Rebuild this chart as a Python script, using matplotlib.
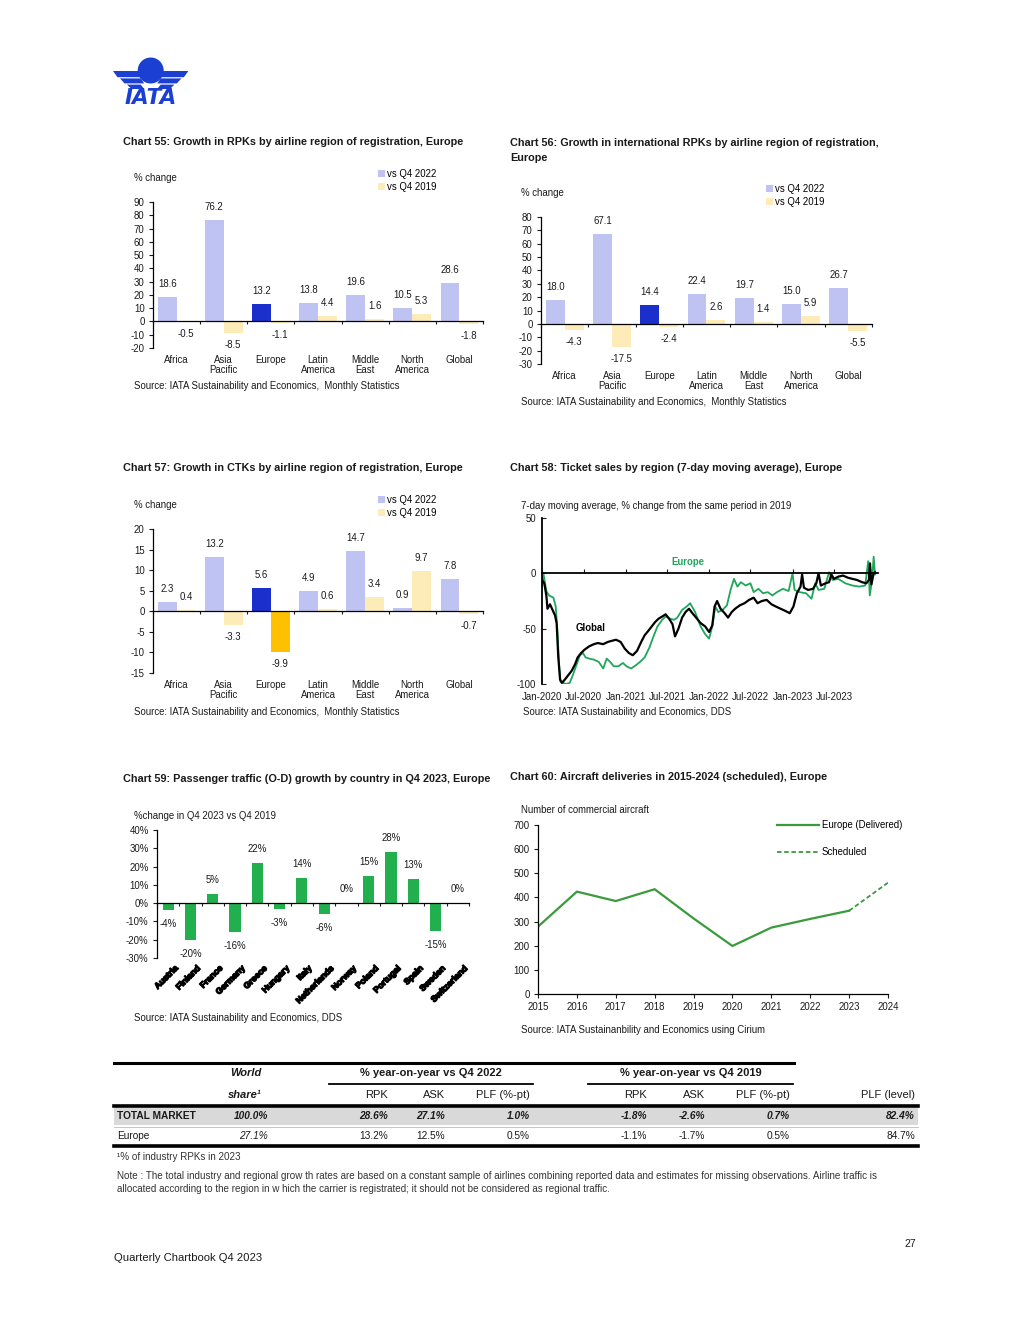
import matplotlib

matplotlib.use("Agg")
import matplotlib.dates as mdates
import matplotlib.patheffects as pe
import matplotlib.pyplot as plt
import numpy as np
from matplotlib.patches import Circle, Polygon, Rectangle

W, H = 1020, 1320
plt.rcParams["font.family"] = ["Liberation Sans", "DejaVu Sans"]
plt.rcParams["axes.unicode_minus"] = False
FS = 6.9

# ---- chart 55-57: growth by airline region of registration ----
REGIONS = ["Africa", "Asia\nPacific", "Europe", "Latin\nAmerica", "Middle\nEast", "North\nAmerica", "Global"]
RPK_VS_2022 = [18.6, 76.2, 13.2, 13.8, 19.6, 10.5, 28.6]
RPK_VS_2019 = [-0.5, -8.5, -1.1, 4.4, 1.6, 5.3, -1.8]
INTL_VS_2022 = [18.0, 67.1, 14.4, 22.4, 19.7, 15.0, 26.7]
INTL_VS_2019 = [-4.3, -17.5, -2.4, 2.6, 1.4, 5.9, -5.5]
CTK_VS_2022 = [2.3, 13.2, 5.6, 4.9, 14.7, 0.9, 7.8]
CTK_VS_2019 = [0.4, -3.3, -9.9, 0.6, 3.4, 9.7, -0.7]

# ---- chart 58: ticket sales, 7-day moving average, % vs 2019 ----
GLOBAL_DATES = [
    "2020-01-01", "2020-01-11", "2020-01-20", "2020-01-25", "2020-02-05", "2020-02-16", "2020-02-27",
    "2020-03-05", "2020-03-12", "2020-03-20", "2020-03-28", "2020-04-10", "2020-04-25", "2020-05-10",
    "2020-05-25", "2020-06-05", "2020-06-20", "2020-07-05", "2020-07-25", "2020-08-15", "2020-09-01",
    "2020-09-25", "2020-10-15", "2020-11-01", "2020-11-20", "2020-12-10", "2020-12-28", "2021-01-15",
    "2021-02-01", "2021-02-20", "2021-03-10", "2021-03-25", "2021-04-10", "2021-04-25", "2021-05-10",
    "2021-05-25", "2021-06-10", "2021-06-25", "2021-07-10", "2021-07-25", "2021-08-05", "2021-08-20",
    "2021-09-05", "2021-09-20", "2021-10-05", "2021-10-20", "2021-11-05", "2021-11-25", "2021-12-15",
    "2022-01-01", "2022-01-15", "2022-01-25", "2022-02-05", "2022-02-20", "2022-03-10", "2022-03-25",
    "2022-04-10", "2022-04-25", "2022-05-15", "2022-06-05", "2022-06-25", "2022-07-15", "2022-08-01",
    "2022-08-20", "2022-09-10", "2022-10-01", "2022-10-20", "2022-11-10", "2022-12-01", "2022-12-20",
    "2023-01-05", "2023-01-20", "2023-02-05", "2023-02-12", "2023-02-20", "2023-03-10", "2023-04-01",
    "2023-04-15", "2023-04-25", "2023-05-05", "2023-05-25", "2023-06-10", "2023-06-20", "2023-07-01",
    "2023-07-20", "2023-08-10", "2023-09-01", "2023-09-20", "2023-10-10", "2023-11-01", "2023-11-20",
    "2023-12-01", "2023-12-06", "2023-12-12", "2023-12-22", "2023-12-28",
]
GLOBAL_VALS = [
    -6, -9, -20, -32, -28, -33, -38,
    -45, -75, -96, -99, -96, -92, -88,
    -82, -76, -72, -69, -66, -64, -63,
    -64, -62, -61, -60, -62, -68, -72,
    -74, -70, -62, -56, -52, -48, -44,
    -41, -39, -37, -41, -46, -57, -50,
    -40, -35, -32, -36, -40, -45, -48,
    -53, -47, -30, -25, -32, -36, -40,
    -35, -32, -29, -27, -24, -22, -27,
    -25, -24, -28, -30, -32, -34, -36,
    -30, -18, -12, -1, -13, -15, -14,
    -9, 0, -11, -9, -8, -1, -5,
    -3, -2, -4, -5, -6, -8, -9,
    -6, 9, -10, 0, 1,
]
EUROPE_DATES = [
    "2020-01-01", "2020-01-08", "2020-01-20", "2020-02-01", "2020-02-20", "2020-03-01", "2020-03-08",
    "2020-03-15", "2020-03-22", "2020-04-15", "2020-05-01", "2020-05-15", "2020-06-01", "2020-06-15",
    "2020-06-28", "2020-07-10", "2020-07-25", "2020-08-15", "2020-09-05", "2020-09-25", "2020-10-10",
    "2020-10-25", "2020-11-10", "2020-11-30", "2020-12-20", "2021-01-05", "2021-01-25", "2021-02-15",
    "2021-03-05", "2021-03-25", "2021-04-15", "2021-05-01", "2021-05-20", "2021-06-10", "2021-06-25",
    "2021-07-15", "2021-08-01", "2021-08-15", "2021-09-05", "2021-09-25", "2021-10-10", "2021-11-01",
    "2021-11-25", "2021-12-15", "2022-01-01", "2022-01-15", "2022-01-28", "2022-02-10", "2022-03-01",
    "2022-03-20", "2022-04-05", "2022-04-20", "2022-05-05", "2022-05-20", "2022-06-10", "2022-07-01",
    "2022-07-15", "2022-08-05", "2022-08-25", "2022-09-15", "2022-10-05", "2022-10-25", "2022-11-20",
    "2022-12-15", "2023-01-01", "2023-01-10", "2023-02-01", "2023-03-01", "2023-03-25", "2023-04-10",
    "2023-04-25", "2023-05-20", "2023-06-10", "2023-06-25", "2023-07-20", "2023-08-20", "2023-09-20",
    "2023-10-20", "2023-11-15", "2023-11-28", "2023-12-05", "2023-12-15", "2023-12-22", "2023-12-28",
]
EUROPE_VALS = [
    -12, -1, -16, -20, -22, -30, -50,
    -80, -98, -100, -99, -92, -82, -74,
    -72, -76, -77, -78, -80, -86, -77,
    -80, -84, -84, -81, -84, -86, -83,
    -80, -76, -67, -58, -48, -42, -39,
    -41, -42, -40, -33, -30, -27, -35,
    -48, -55, -59, -48, -30, -35, -33,
    -29, -15, -5, -12, -8, -11, -9,
    -17, -14, -18, -17, -20, -17, -14,
    -16, 0, -15, -17, -18, -23, -9,
    -15, -14, 1, -6, -5, -9, -11,
    -12, -11, 11, -20, -6, 15, -1,
]
TICKET_TICKS = ["2020-01-01", "2020-07-01", "2021-01-01", "2021-07-01",
                "2022-01-01", "2022-07-01", "2023-01-01", "2023-07-01"]
TICKET_LABELS = ["Jan-2020", "Jul-2020", "Jan-2021", "Jul-2021",
                 "Jan-2022", "Jul-2022", "Jan-2023", "Jul-2023"]

# ---- chart 59: O-D passenger traffic growth by country ----
COUNTRIES = ["Austria", "Finland", "France", "Germany", "Greece", "Hungary", "Italy",
             "Netherlands", "Norway", "Poland", "Portugal", "Spain", "Sweden", "Switzerland"]
OD_GROWTH = [-4, -20, 5, -16, 22, -3, 14, -6, 0, 15, 28, 13, -15, 0]

# ---- chart 60: aircraft deliveries ----
YEARS = [2015, 2016, 2017, 2018, 2019, 2020, 2021, 2022, 2023, 2024]
DELIVERED_YEARS = [2015, 2016, 2017, 2018, 2019, 2020, 2021, 2022, 2023]
DELIVERED = [279, 424, 385, 434, 313, 199, 275, 311, 345]
SCHEDULED_YEARS = [2023, 2024]
SCHEDULED = [345, 461]

# ---- table ----
TABLE_HEAD = ["RPK", "ASK", "PLF (%-pt)", "RPK", "ASK", "PLF (%-pt)", "PLF (level)"]
TABLE_ROWS = ["TOTAL MARKET", "Europe"]
WORLD_SHARE = ["100.0%", "27.1%"]
TABLE_VALS = [
    ["28.6%", "27.1%", "1.0%", "-1.8%", "-2.6%", "0.7%", "82.4%"],
    ["13.2%", "12.5%", "0.5%", "-1.1%", "-1.7%", "0.5%", "84.7%"],
]

LAV = "#bfc3f1"
BLUE = "#1a2fcc"
CREAM = "#fdebb8"
GOLD = "#ffc000"
GREEN_BAR = "#22b04e"
GREEN_LINE = "#3a9a3c"
GREEN_TS = "#1fa65a"
LOGO = "#1b3fd3"
INK = "#1a1a1a"

fig = plt.figure(figsize=(W / 100, H / 100), dpi=100)
page = fig.add_axes([0, 0, 1, 1])
page.set_xlim(0, W)
page.set_ylim(H, 0)
page.axis("off")


def px_axes(left, top, right, bottom):
    return fig.add_axes([left / W, 1 - bottom / H, (right - left) / W, (bottom - top) / H])


def txt(x, y, s, **kw):
    kw.setdefault("fontsize", FS)
    kw.setdefault("color", INK)
    page.text(x, y, s, va="center", **kw)


def style_axes(ax):
    for s in ("top", "right"):
        ax.spines[s].set_visible(False)
    for s in ("left", "bottom"):
        ax.spines[s].set_linewidth(0.9)
        ax.spines[s].set_color("black")
    ax.tick_params(labelsize=FS, colors=INK, width=0.8)
    ax.patch.set_visible(False)


def region_chart(box, a, b, ylim, step, gold_europe=False):
    ax = px_axes(*box)
    style_axes(ax)
    x = np.arange(len(REGIONS))
    w = 0.4
    c1 = [LAV] * len(REGIONS)
    c1[2] = BLUE
    c2 = [CREAM] * len(REGIONS)
    if gold_europe:
        c2[2] = GOLD
    ax.bar(x - w / 2, a, w, color=c1, label="vs Q4 2022")
    ax.bar(x + w / 2, b, w, color=c2, label="vs Q4 2019")
    for xs, vals in ((x - w / 2, a), (x + w / 2, b)):
        for xi, v in zip(xs, vals):
            ax.annotate(f"{v:.1f}", (xi, v), textcoords="offset pixels",
                        xytext=(0, 13 if v >= 0 else -12), ha="center", va="center",
                        fontsize=FS, color=INK)
    ax.set_xlim(-0.5, len(REGIONS) - 0.5)
    ax.set_ylim(*ylim)
    ax.set_yticks(np.arange(ylim[0], ylim[1] + 1, step))
    ax.tick_params(axis="y", length=3, pad=3)
    ax.spines["bottom"].set_position(("data", 0))
    ax.set_xticks(np.arange(-0.5, len(REGIONS), 1))
    ax.tick_params(axis="x", length=2, labelbottom=False)
    sec = ax.secondary_xaxis(0)
    sec.set_xticks(x, REGIONS)
    sec.tick_params(length=0, pad=5, labelsize=FS, colors=INK)
    sec.spines["bottom"].set_visible(False)
    for t in sec.get_xticklabels():
        t.set_linespacing(1.05)
    return ax


def region_legend(ax, x, y):
    h, l = ax.get_legend_handles_labels()
    fig.legend(h, l, loc="upper left", bbox_to_anchor=(x / W, 1 - y / H), frameon=False,
               fontsize=FS, handlelength=0.75, handleheight=0.75, handletextpad=0.15,
               labelspacing=0.3, borderpad=0, borderaxespad=0)


# ---- logo ----
cx = 150.7
page.add_patch(Circle((cx, 70.5), 13.0, color=LOGO, lw=0))
stripes = [(71.0, 77.2, 113.0, 117.5), (78.4, 83.4, 120.0, 124.5), (84.6, 89.0, 127.0, 131.5)]
for top, bot, xo_t, xo_b in stripes:
    for sgn in (-1, 1):
        pts = [(cx + sgn * (cx - xo_t), top), (cx + sgn * 10.0, top),
               (cx + sgn * 6.5, bot), (cx + sgn * (cx - xo_b), bot)]
        page.add_patch(Polygon(pts, closed=True, color=LOGO, lw=0))
page.text(cx, 97.5, "IATA", ha="center", va="center", fontsize=15.5, fontweight="bold",
          fontstyle="italic", color=LOGO, family="DejaVu Sans")

# ---- titles ----
TB = dict(fontweight="bold", fontsize=7.8)
txt(123, 142, "Chart 55: Growth in RPKs by airline region of registration, Europe", **TB)
txt(510, 143, "Chart 56: Growth in international RPKs by airline region of registration,", **TB)
txt(510, 158, "Europe", **TB)
txt(123, 468, "Chart 57: Growth in CTKs by airline region of registration, Europe", **TB)
txt(510, 468, "Chart 58: Ticket sales by region (7-day moving average), Europe", **TB)
txt(123, 779, "Chart 59: Passenger traffic (O-D) growth by country in Q4 2023, Europe", **TB)
txt(510, 777, "Chart 60: Aircraft deliveries in 2015-2024 (scheduled), Europe", **TB)

# ---- chart 55 ----
ax55 = region_chart((153, 202, 483, 348), RPK_VS_2022, RPK_VS_2019, (-20, 90), 10)
region_legend(ax55, 378, 169)
txt(134, 178, "% change")
txt(134, 386, "Source: IATA Sustainability and Economics,  Monthly Statistics")

# ---- chart 56 ----
ax56 = region_chart((541, 217, 872, 364), INTL_VS_2022, INTL_VS_2019, (-30, 80), 10)
region_legend(ax56, 766, 184)
txt(521, 193, "% change")
txt(521, 402, "Source: IATA Sustainability and Economics,  Monthly Statistics")

# ---- chart 57 ----
ax57 = region_chart((153, 529, 483, 673), CTK_VS_2022, CTK_VS_2019, (-15, 20), 5, gold_europe=True)
region_legend(ax57, 378, 495)
txt(134, 505, "% change")
txt(134, 712, "Source: IATA Sustainability and Economics,  Monthly Statistics")

# ---- chart 58 ----
ax58 = px_axes(542, 518, 878, 684)
style_axes(ax58)
gd = mdates.datestr2num(GLOBAL_DATES)
ed = mdates.datestr2num(EUROPE_DATES)
ax58.plot(ed, EUROPE_VALS, color=GREEN_TS, lw=1.3)
ax58.plot(gd, GLOBAL_VALS, color="black", lw=1.6)
ax58.set_xlim(mdates.datestr2num("2020-01-01"), mdates.datestr2num("2024-01-10"))
ax58.set_ylim(-100, 50)
ax58.set_yticks([-100, -50, 0, 50])
ax58.tick_params(axis="y", direction="in", length=3, pad=4)
ax58.spines["left"].set_linewidth(1.3)
ax58.spines["bottom"].set_position(("data", 0))
ax58.spines["bottom"].set_linewidth(1.3)
tick_pos = mdates.datestr2num(TICKET_TICKS)
ax58.set_xticks(tick_pos)
ax58.tick_params(axis="x", direction="in", length=3, labelbottom=False)
sec58 = ax58.secondary_xaxis(0)
sec58.set_xticks(tick_pos, TICKET_LABELS)
sec58.tick_params(length=0, pad=6, labelsize=FS, colors=INK)
sec58.spines["bottom"].set_visible(False)
ax58.text(mdates.datestr2num("2021-07-21"), 10, "Europe", color=GREEN_TS, fontweight="bold",
          fontsize=FS, va="center")
ax58.text(mdates.datestr2num("2020-05-26"), -49.5, "Global", color="black", fontweight="bold",
          fontsize=FS, va="center")
txt(521, 506, "7-day moving average, % change from the same period in 2019")
txt(523, 712, "Source: IATA Sustainability and Economics, DDS")

# ---- chart 59 ----
ax59 = px_axes(157, 830, 469, 958)
style_axes(ax59)
xc = np.arange(len(COUNTRIES))
ax59.bar(xc, OD_GROWTH, 0.5, color=GREEN_BAR)
for xi, v in zip(xc, OD_GROWTH):
    ax59.annotate(f"{v}%", (xi, v), textcoords="offset pixels",
                  xytext=(0, 14 if v >= 0 else -14), ha="center", va="center", fontsize=FS, color=INK)
ax59.set_xlim(-0.5, len(COUNTRIES) - 0.5)
ax59.set_ylim(-30, 40)
ax59.set_yticks(np.arange(-30, 41, 10))
ax59.set_yticklabels([f"{t}%" for t in range(-30, 41, 10)])
ax59.tick_params(axis="y", length=3, pad=3)
ax59.spines["bottom"].set_position(("data", 0))
ax59.set_xticks(np.arange(-0.5, len(COUNTRIES), 1))
ax59.tick_params(axis="x", length=2, labelbottom=False)
sec59 = ax59.secondary_xaxis(0)
sec59.set_xticks(xc + 0.25, COUNTRIES)
sec59.tick_params(length=0, pad=4, labelsize=6.2, colors="black")
sec59.spines["bottom"].set_visible(False)
for t in sec59.get_xticklabels():
    t.set_rotation(45)
    t.set_ha("right")
    t.set_rotation_mode("anchor")
    t.set_fontweight("bold")
    t.set_path_effects([pe.withStroke(linewidth=0.9, foreground="black")])
txt(134, 816, "%change in Q4 2023 vs Q4 2019")
txt(134, 1018, "Source: IATA Sustainability and Economics, DDS")

# ---- chart 60 ----
ax60 = px_axes(538, 825, 888, 994)
style_axes(ax60)
ax60.plot(DELIVERED_YEARS, DELIVERED, color=GREEN_LINE, lw=1.6, label="Europe (Delivered)")
ax60.plot(SCHEDULED_YEARS, SCHEDULED, color=GREEN_LINE, lw=1.3, ls=(0, (2.5, 1.5)), label="Scheduled")
ax60.set_xlim(2015, 2024)
ax60.set_ylim(0, 700)
ax60.set_xticks(YEARS)
ax60.set_yticks(np.arange(0, 701, 100))
ax60.tick_params(length=3, pad=3)
ax60.legend(loc="upper left", bbox_to_anchor=(777 / W, 1 - 820 / H), bbox_transform=fig.transFigure,
            frameon=False, fontsize=FS, handlelength=4.4, handletextpad=0.3, labelspacing=1.8,
            borderpad=0, borderaxespad=0)
txt(521, 810, "Number of commercial aircraft")
txt(521, 1030, "Source: IATA Sustainanbility and Economics using Cirium")

# ---- table ----
TF = ["Liberation Sans Narrow", "Liberation Sans", "DejaVu Sans"]
TS = 7.3
HS = 8.0
page.plot([114, 794], [1063, 1063], color="black", lw=2.2)
page.plot([329, 533], [1084, 1084], color="black", lw=1.3)
page.plot([588, 793], [1084, 1084], color="black", lw=1.3)
page.plot([114, 918], [1106, 1106], color="black", lw=2.6)
page.add_patch(Rectangle((114, 1108), 804, 17, color="#d9d9d9", lw=0))
page.plot([114, 918], [1126.5, 1126.5], color="#bdbdbd", lw=0.6)
page.plot([114, 918], [1146, 1146], color="black", lw=2.6)
page.text(261, 1073, "World", ha="right", va="center", fontsize=HS, fontweight="bold",
          fontstyle="italic", family=TF, color=INK)
page.text(262, 1095, "share\u00b9", ha="right", va="center", fontsize=HS, fontweight="bold",
          fontstyle="italic", family=TF, color=INK)
page.text(431, 1073, "% year-on-year vs Q4 2022", ha="center", va="center", fontsize=HS,
          fontweight="bold", family=TF, color=INK)
page.text(691, 1073, "% year-on-year vs Q4 2019", ha="center", va="center", fontsize=HS,
          fontweight="bold", family=TF, color=INK)
col_right = [388, 445, 530, 647, 705, 790, 915]
for xr, head in zip(col_right, TABLE_HEAD):
    page.text(xr, 1095, head, ha="right", va="center", fontsize=HS, family=TF, color=INK)
for i, (name, share, vals) in enumerate(zip(TABLE_ROWS, WORLD_SHARE, TABLE_VALS)):
    y = 1116 + i * 20
    bold = "bold" if i == 0 else "normal"
    page.text(117, y, name, ha="left", va="center", fontsize=TS, fontweight=bold, family=TF, color=INK)
    page.text(268, y, share, ha="right", va="center", fontsize=TS, fontweight=bold,
              fontstyle="italic", family=TF, color=INK)
    for xr, v in zip(col_right, vals):
        page.text(xr, y, v, ha="right", va="center", fontsize=TS, fontweight=bold,
                  fontstyle="italic" if i == 0 else "normal", family=TF, color=INK)

NS = 7.1
page.text(117, 1157, "\u00b9% of industry RPKs in 2023", va="center", fontsize=NS, family=TF, color="#333333")
page.text(117, 1176, "Note : The total industry and regional grow th rates are based on a constant sample of airlines "
          "combining reported data and estimates for missing observations. Airline traffic is",
          va="center", fontsize=NS, family=TF, color="#333333")
page.text(117, 1189, "allocated according to the region in w hich the carrier is registrated; it should not be "
          "considered as regional traffic.", va="center", fontsize=NS, family=TF, color="#333333")

txt(916, 1244, "27", ha="right", fontsize=7.5)
txt(114, 1258, "Quarterly Chartbook Q4 2023", fontsize=8.1)

fig.savefig("out.png", dpi=100)
